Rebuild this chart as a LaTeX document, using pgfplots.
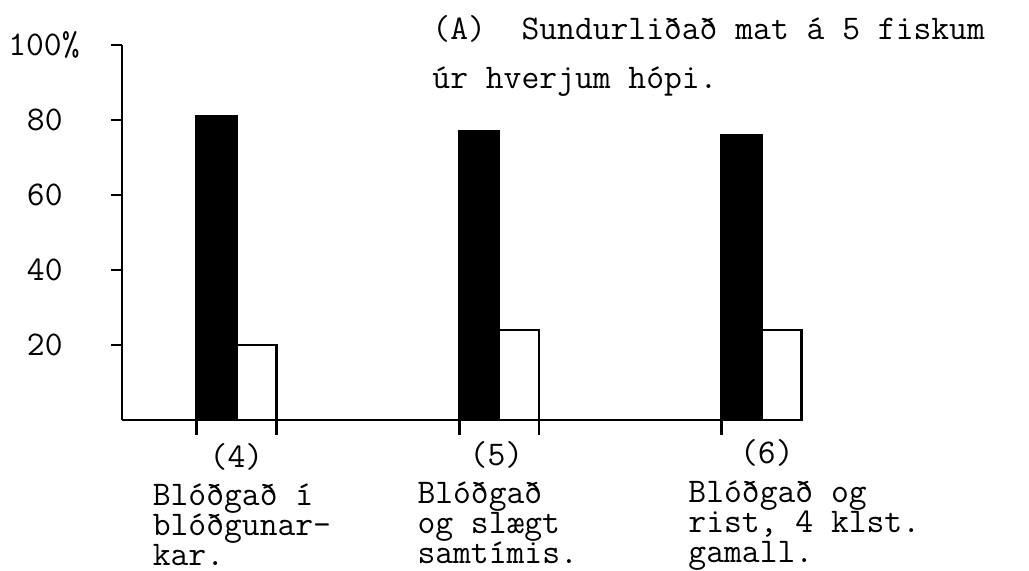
\documentclass[border=0pt]{standalone}
\usepackage{fontspec}
\usepackage{pgfplots}
\pgfplotsset{compat=1.18}
\newcommand{\tw}{\ttfamily\fontsize{17.3pt}{17pt}\selectfont}
\newcommand{\lines}[3]{\vtop{\lineskiplimit=-100pt\baselineskip=15pt\hbox{#1}\hbox{#2}\hbox{#3}}}
\begin{document}
\tw
\begin{tikzpicture}[every node/.style={font=\tw}]
\begin{axis}[
  scale only axis, width=339.5pt, height=187.5pt,
  xmin=-0.436, xmax=2.150, ymin=0, ymax=100,
  axis x line*=bottom, axis y line*=left,
  axis line style={line width=1.4pt, black},
  ytick={20,40,60,80,100},
  yticklabels={20,40,60,80,{100\%\hspace*{-8.5pt}}},
  xtick={-0.152,0.152,0.848,1.152,1.848,2.152},
  xticklabels={},
  tick align=outside, major tick length=5.5pt,
  tick style={line width=1.4pt, black},
  xtick style={/pgfplots/major tick length=7.5pt},
  /pgf/number format/assume math mode=true,
  yticklabel style={font=\tw, anchor=east, inner sep=0pt, xshift=-24pt},
  ybar=0pt, bar width=20pt,
  clip=false,
]
\addplot[fill=black, draw=black, line width=1.4pt] coordinates {(0,81) (1,77) (2,76)};
\addplot[fill=white, draw=black, line width=1.4pt] coordinates {(0,20) (1,24) (2,24)};

\node[anchor=base west, inner sep=0pt] at (axis cs:0.745,101.5) {(A)\ \ Sundurliðað mat á 5 fiskum};
\node[anchor=base west, inner sep=0pt] at (axis cs:0.745,88.5) {úr hverjum hópi.};

\node[anchor=base, inner sep=0pt] at (axis cs:0,-12.8) {(4)};
\node[anchor=base west, inner sep=0pt] at (axis cs:-0.320,-22.9) {\lines{Blóðgað í}{blóðgunar-}{kar.}};

\node[anchor=base, inner sep=0pt] at (axis cs:0.99,-12.1) {(5)};
\node[anchor=base west, inner sep=0pt] at (axis cs:0.688,-22.4) {\lines{Blóðgað}{og slægt}{samtímis.}};

\node[anchor=base, inner sep=0pt] at (axis cs:2.02,-11.5) {(6)};
\node[anchor=base west, inner sep=0pt] at (axis cs:1.72,-21.9) {\lines{Blóðgað og}{rist, 4 klst.}{gamall.}};
\end{axis}
\pgfresetboundingbox
\path (-61pt,-75.5pt) rectangle (453.5pt,210pt);
\end{tikzpicture}
\end{document}
